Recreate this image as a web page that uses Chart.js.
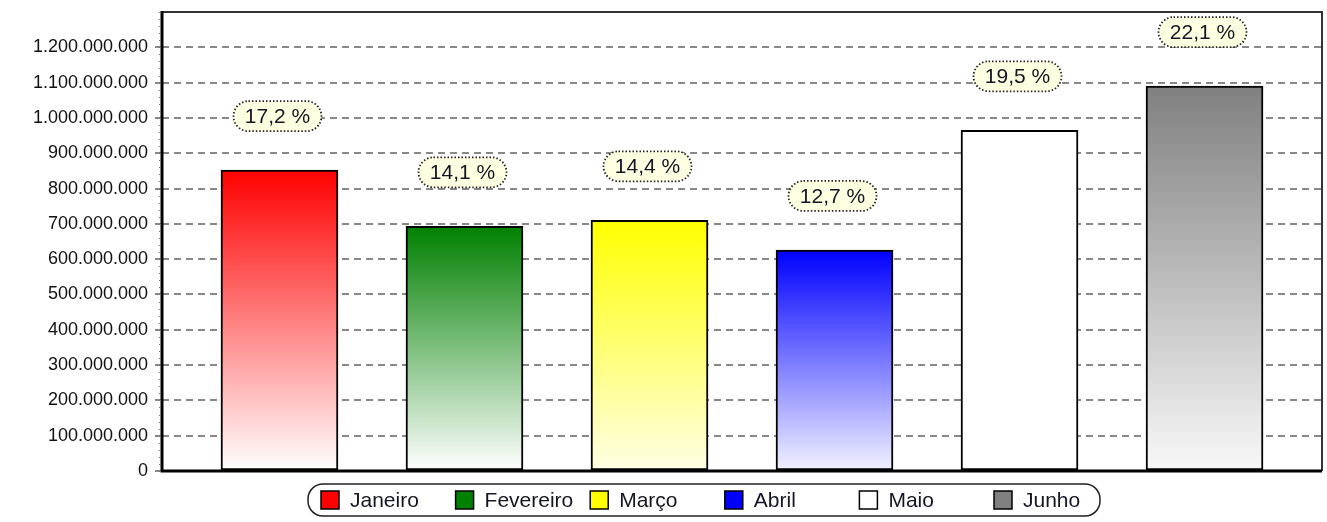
<!DOCTYPE html>
<html>
<head>
<meta charset="utf-8">
<script src="https://cdn.jsdelivr.net/npm/chart.js@4.4.1/dist/chart.umd.min.js"></script>
<style>
    html, body { margin: 0; padding: 0; background: #fff; }
    #wrap { width: 1327px; height: 522px; }
</style>
</head>
<body>
<div id="wrap"><canvas id="chart"></canvas></div>
<script>
// Data
const months = ['Janeiro', 'Fevereiro', 'Março', 'Abril', 'Maio', 'Junho'];
const values = [852000000, 693000000, 710000000, 626000000, 965000000, 1090000000];
const shares = [17.2, 14.1, 14.4, 12.7, 19.5, 22.1];
const topColors = ['#ff0000', '#008000', '#ffff00', '#0000ff', '#ffffff', '#808080'];
const bottomColors = ['#ffffff', '#ffffff', '#ffffe6', '#f2f2ff', '#ffffff', '#f8f8f8'];
const yMax = 1300000000;
const yLastTick = 1200000000;
const yStep = 100000000;

const fontFamily = "'Liberation Sans', Arial, sans-serif";
Chart.defaults.font.family = fontFamily;
Chart.defaults.font.size = 18;
Chart.defaults.color = '#111';

function fmtThousands(v) {
    return String(v).replace(/\B(?=(\d{3})+(?!\d))/g, '.');
}

function barGradient(ctx) {
    const chart = ctx.chart;
    const i = ctx.dataIndex;
    if (!chart.chartArea || i === undefined) return topColors[0];
    const y = chart.scales.y;
    const g = chart.ctx.createLinearGradient(0, y.getPixelForValue(values[i]), 0, y.getPixelForValue(0));
    g.addColorStop(0, topColors[i]);
    g.addColorStop(1, bottomColors[i]);
    return g;
}

// percentage pills above the bars
const shareLabels = {
    id: 'shareLabels',
    afterDatasetsDraw(chart) {
        const ctx = chart.ctx;
        const meta = chart.getDatasetMeta(0);
        ctx.save();
        ctx.font = `21px ${fontFamily}`;
        ctx.textAlign = 'center';
        ctx.textBaseline = 'middle';
        meta.data.forEach((bar, i) => {
            const cx = bar.x - 2, cy = bar.y - 54;
            const w = 88, h = 30;
            ctx.beginPath();
            ctx.roundRect(cx - w / 2, cy - h / 2, w, h, h / 2);
            ctx.fillStyle = '#ffffe1';
            ctx.fill();
            ctx.setLineDash([1.5, 2]);
            ctx.lineWidth = 1.8;
            ctx.strokeStyle = '#222';
            ctx.stroke();
            ctx.setLineDash([]);
            ctx.fillStyle = '#151525';
            ctx.fillText(shares[i].toFixed(1).replace('.', ',') + ' %', cx, cy + 1);
        });
        ctx.restore();
    }
};

// plot frame, minor ticks on the value axis
const frame = {
    id: 'frame',
    afterDraw(chart) {
        const { ctx, chartArea: a, scales } = chart;
        ctx.save();
        ctx.strokeStyle = '#333';
        ctx.lineWidth = 2;
        ctx.beginPath();
        ctx.moveTo(a.left, a.top);
        ctx.lineTo(a.right, a.top);
        ctx.lineTo(a.right, a.bottom);
        ctx.stroke();

        ctx.strokeStyle = '#000';
        ctx.lineWidth = 3;
        ctx.beginPath();
        ctx.moveTo(a.left, a.top - 1);
        ctx.lineTo(a.left, a.bottom);
        ctx.lineTo(a.right, a.bottom);
        ctx.stroke();

        ctx.strokeStyle = '#777';
        ctx.lineWidth = 1;
        for (let v = 0; v <= yMax; v += yStep / 5) {
            const y = Math.round(scales.y.getPixelForValue(v)) + 0.5;
            ctx.beginPath();
            ctx.moveTo(a.left - 3, y);
            ctx.lineTo(a.left - 1, y);
            ctx.stroke();
        }
        ctx.restore();
    }
};

// legend in a rounded box, fixed item spacing
const boxLegend = {
    id: 'boxLegend',
    afterDraw(chart) {
        const ctx = chart.ctx;
        const left = 308, right = 1100, top = 484, bottom = 516;
        const midY = (top + bottom) / 2;
        ctx.save();
        ctx.beginPath();
        ctx.roundRect(left, top, right - left, bottom - top, 15);
        ctx.fillStyle = '#fff';
        ctx.fill();
        ctx.strokeStyle = '#222';
        ctx.lineWidth = 1.5;
        ctx.stroke();

        ctx.font = `21px ${fontFamily}`;
        ctx.textAlign = 'left';
        ctx.textBaseline = 'middle';
        months.forEach((m, i) => {
            const x = 321 + i * 134.6;
            ctx.fillStyle = topColors[i];
            ctx.fillRect(x, midY - 9, 18, 18);
            ctx.strokeStyle = '#000';
            ctx.lineWidth = 1.5;
            ctx.strokeRect(x, midY - 9, 18, 18);
            ctx.fillStyle = '#151525';
            ctx.fillText(m, x + 29, midY + 1);
        });
        ctx.restore();
    }
};

new Chart(document.getElementById('chart'), {
    type: 'bar',
    data: {
        labels: months,
        datasets: [{
            data: months.map((m, i) => ({ x: i, y: values[i] })),
            backgroundColor: barGradient,
            borderColor: '#000',
            borderWidth: 2,
            borderSkipped: false,
            barThickness: 117
        }]
    },
    options: {
        responsive: true,
        maintainAspectRatio: false,
        animation: false,
        layout: { padding: { left: 0, top: 12, right: 5, bottom: 51 } },
        plugins: {
            legend: { display: false },
            tooltip: { enabled: false }
        },
        scales: {
            x: {
                type: 'linear',
                min: -0.635,
                max: 5.635,
                offset: false,
                display: false
            },
            y: {
                min: 0,
                max: yMax,
                afterBuildTicks: s => { s.ticks = s.ticks.filter(t => t.value <= yLastTick); },
                afterFit: s => {
                    s.width = 162;
                    s.paddingTop = 0;
                    s.paddingBottom = 0;
                },
                ticks: {
                    stepSize: yStep,
                    padding: 7,
                    color: '#111',
                    callback: v => fmtThousands(v)
                },
                grid: {
                    color: '#888',
                    lineWidth: 2,
                    tickLength: 7,
                    tickColor: '#888',
                    tickWidth: 2,
                    tickBorderDash: []
                },
                border: { display: false, dash: [7, 5] }
            }
        }
    },
    plugins: [shareLabels, frame, boxLegend]
});
</script>
</body>
</html>
